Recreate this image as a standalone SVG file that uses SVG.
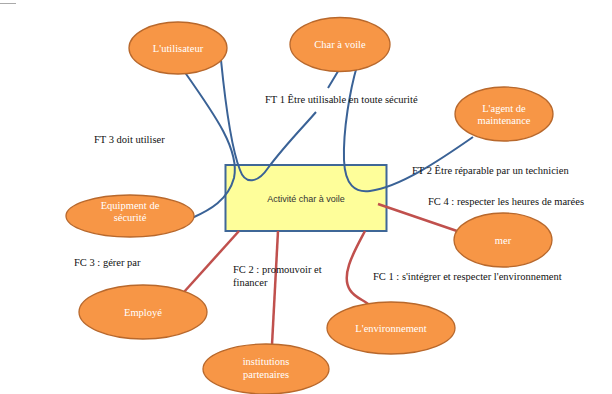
<svg xmlns="http://www.w3.org/2000/svg" width="612" height="394" viewBox="0 0 612 394">
<style>
.node ellipse{fill:#f79646;stroke:#b8682c;stroke-width:1.3}
.node text{fill:#ffffff;font-family:"Liberation Serif","Times New Roman",serif;font-size:10.5px;text-anchor:middle}
.blue{fill:none;stroke:#3a6296;stroke-width:2}
.red{fill:none;stroke:#c0504d;stroke-width:2.5}
.lbl{fill:#111;font-family:"Liberation Serif","Times New Roman",serif;font-size:10.5px}
</style>
<rect width="612" height="394" fill="#ffffff"/>
<line x1="0" y1="3.5" x2="16" y2="3.5" stroke="#aaaaaa" stroke-width="1"/>
<g id="center">
<rect x="225.5" y="165" width="161" height="66" fill="#fefe9a" stroke="#3f6797" stroke-width="2"/>
<text x="306" y="202" font-family="Liberation Sans,Arial,sans-serif" font-size="9px" fill="#333" text-anchor="middle">Activité char à voile</text>
</g>
<g id="connectors">
<path class="blue" d="M184,71 C 215,115 240,150 234,178 C 228,200 210,210 192,218"/>
<path class="blue" d="M221,60 C 226,110 232,150 240,170 C 245,185 258,183 268,168 C 285,145 305,125 316,112 M328,88 L340,68"/>
<path class="blue" d="M357,66 C 350,90 343,130 344,160 C 345,185 355,193 370,191 C 400,187 440,160 473,137"/>
<path class="red" d="M378,204 L457,231"/>
<path class="red" d="M239,231 L184,292"/>
<path class="red" d="M278,231 L272,345"/>
<path class="red" d="M365,231 C 355,250 340,275 350,290 C 355,298 364,300 368,304"/>
</g>
<g id="utilisateur" class="node"><ellipse cx="178" cy="48" rx="49" ry="26"/><text x="178" y="52">L'utilisateur</text></g>
<g id="charavoile" class="node"><ellipse cx="340" cy="44.5" rx="50" ry="27"/><text x="340" y="48">Char à voile</text></g>
<g id="agent" class="node"><ellipse cx="504" cy="114" rx="49" ry="27"/><text x="504" y="112">L'agent de</text><text x="504" y="124">maintenance</text></g>
<g id="equipement" class="node"><ellipse cx="130" cy="216" rx="64" ry="21"/><text x="130" y="209">Equipment de</text><text x="130" y="221">sécurité</text></g>
<g id="mer" class="node"><ellipse cx="503" cy="240" rx="49" ry="27"/><text x="503" y="244">mer</text></g>
<g id="employe" class="node"><ellipse cx="143" cy="312" rx="64" ry="27"/><text x="143" y="316">Employé</text></g>
<g id="institutions" class="node"><ellipse cx="266" cy="369" rx="63" ry="25"/><text x="266" y="365">institutions</text><text x="266" y="378">partenaires</text></g>
<g id="environnement" class="node"><ellipse cx="391" cy="328" rx="64" ry="26"/><text x="391" y="332">L'environnement</text></g>
<g id="labels">
<text class="lbl" x="265" y="103">FT 1 Être utilisable en toute sécurité</text>
<text class="lbl" x="94" y="143">FT 3 doit utiliser</text>
<text class="lbl" x="412" y="174">FT 2 Être réparable par un technicien</text>
<text class="lbl" x="428" y="205">FC 4 : respecter les heures de marées</text>
<text class="lbl" x="74" y="266">FC 3 : gérer par</text>
<text class="lbl" x="233" y="273">FC 2 : promouvoir et</text>
<text class="lbl" x="233" y="286">financer</text>
<text class="lbl" x="373" y="280">FC 1 : s'intégrer et respecter l'environnement</text>
</g>
</svg>
